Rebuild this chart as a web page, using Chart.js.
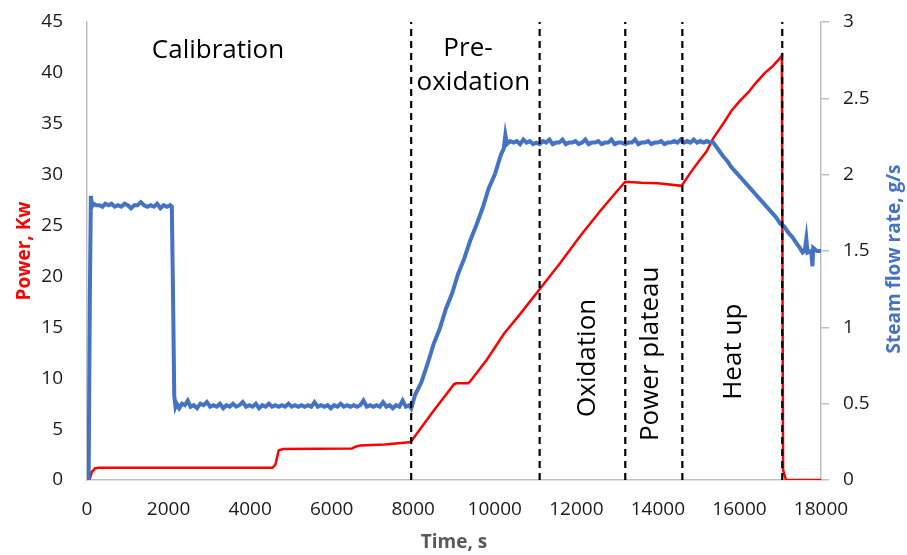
<!DOCTYPE html>
<html>
<head>
  <title>Power and steam flow</title>
  <script src="https://cdn.jsdelivr.net/npm/chart.js"></script>
  <style>
    body { margin: 0; background: #fff; }
  </style>
</head>
<body>
  <canvas id="runChart" width="907" height="555"></canvas>
  <script>
    // power, kW (left axis)
    const powerTime = [0, 60, 120, 200, 300, 4550, 4620, 4700, 4800, 6500, 6600, 6700, 7300, 7900,
      7950, 8500, 9000, 9050, 9350, 9400, 9800, 10230, 10600, 11090, 11600, 12100, 12600, 13000, 13200,
      13600, 14000, 14580, 14800, 15000, 15195, 15360, 15600, 15810, 16000, 16220, 16400, 16625, 16800,
      16960, 17040, 17070, 17140, 18000];
    const powerKw = [0, 0, 0.8, 1.15, 1.2, 1.2, 1.5, 2.9, 3.05, 3.1, 3.3, 3.4, 3.5, 3.7,
      3.8, 6.8, 9.4, 9.5, 9.5, 9.7, 11.8, 14.4, 16.2, 18.7, 21.3, 24.0, 26.5, 28.4, 29.3,
      29.2, 29.15, 28.9, 30.2, 31.3, 32.3, 33.6, 35.0, 36.3, 37.2, 38.1, 39.0, 40.0, 40.6,
      41.3, 41.7, 1.0, 0, 0];

    // steam flow rate, g/s (right axis)
    const steamTime = [0, 40, 70, 95, 120, 160, 220, 300, 380, 450, 530, 600, 680, 760, 840, 920, 1000,
      1080, 1160, 1240, 1320, 1400, 1480, 1560, 1640, 1720, 1800, 1880, 1960, 2040, 2080, 2110, 2140, 2170,
      2200, 2260, 2330, 2400, 2470, 2540, 2620, 2700, 2780, 2860, 2940, 3020, 3100, 3180, 3260, 3340, 3420,
      3500, 3580, 3660, 3740, 3820, 3900, 3980, 4060, 4140, 4220, 4300, 4380, 4460, 4540, 4620, 4700, 4780,
      4860, 4940, 5020, 5100, 5180, 5260, 5340, 5420, 5500, 5580, 5660, 5740, 5820, 5900, 5980, 6060, 6140,
      6220, 6300, 6380, 6460, 6540, 6620, 6700, 6780, 6860, 6940, 7020, 7100, 7180, 7260, 7340, 7420, 7500,
      7580, 7660, 7740, 7820, 7900,
      7950, 8050, 8200, 8350, 8500, 8650, 8800, 8950, 9100, 9250, 9400, 9550, 9700, 9850, 10000, 10150,
      10220, 10260, 10300, 10380, 10460, 10540, 10620, 10700, 10780, 10860, 10940, 11020, 11100, 11180,
      11260, 11340, 11420, 11500, 11580, 11660, 11740, 11820, 11900, 11980, 12060, 12140, 12220, 12300,
      12380, 12460, 12540, 12620, 12700, 12780, 12860, 12940, 13020, 13100, 13200, 13280, 13360, 13440,
      13520, 13600, 13680, 13760, 13840, 13920, 14000, 14080, 14160, 14240, 14320, 14400, 14480, 14560,
      14640, 14720, 14800, 14880, 14960, 15040, 15120, 15200, 15280, 15360,
      15440, 15520, 15600, 15700, 15800, 15900, 16000, 16100, 16200, 16300, 16400, 16500, 16600, 16700,
      16800, 16900, 17000, 17100, 17200, 17300, 17400, 17480, 17550, 17600, 17640, 17670, 17760, 17790,
      17810, 17900, 18000];
    const steamFlow = [0, 0, 1.2, 1.86, 1.79, 1.81, 1.80, 1.80, 1.79, 1.81, 1.80, 1.81, 1.79, 1.80, 1.79, 1.81, 1.80,
      1.78, 1.80, 1.80, 1.82, 1.80, 1.79, 1.80, 1.79, 1.81, 1.78, 1.80, 1.79, 1.80, 1.79, 1.2, 0.55, 0.48,
      0.50, 0.47, 0.50, 0.49, 0.52, 0.48, 0.49, 0.47, 0.50, 0.49, 0.51, 0.48, 0.49, 0.48, 0.50, 0.47, 0.49,
      0.48, 0.50, 0.48, 0.49, 0.51, 0.48, 0.49, 0.48, 0.50, 0.47, 0.49, 0.48, 0.50, 0.48, 0.49, 0.48, 0.49,
      0.48, 0.50, 0.48, 0.49, 0.48, 0.49, 0.48, 0.49, 0.48, 0.51, 0.48, 0.49, 0.48, 0.49, 0.47, 0.49, 0.48,
      0.50, 0.48, 0.49, 0.48, 0.49, 0.48, 0.49, 0.52, 0.48, 0.49, 0.48, 0.49, 0.48, 0.51, 0.48, 0.49, 0.47,
      0.49, 0.48, 0.52, 0.48, 0.49,
      0.47, 0.56, 0.64, 0.76, 0.89, 0.99, 1.12, 1.22, 1.35, 1.45, 1.57, 1.67, 1.78, 1.91, 2.00, 2.13,
      2.17, 2.26, 2.20, 2.22, 2.21, 2.22, 2.20, 2.23, 2.21, 2.22, 2.20, 2.21, 2.20, 2.22,
      2.21, 2.23, 2.20, 2.21, 2.21, 2.23, 2.20, 2.21, 2.21, 2.22, 2.20, 2.21, 2.23, 2.20,
      2.21, 2.21, 2.22, 2.20, 2.21, 2.21, 2.23, 2.20, 2.21, 2.21, 2.20, 2.21, 2.21, 2.23,
      2.20, 2.21, 2.21, 2.22, 2.20, 2.21, 2.21, 2.22, 2.20, 2.21, 2.21, 2.22, 2.21, 2.23,
      2.21, 2.22, 2.21, 2.23, 2.21, 2.22, 2.21, 2.22, 2.21, 2.21,
      2.18, 2.15, 2.12, 2.09, 2.05, 2.02, 1.99, 1.96, 1.93, 1.90, 1.87, 1.84, 1.81, 1.78,
      1.75, 1.72, 1.68, 1.66, 1.62, 1.59, 1.55, 1.52, 1.49, 1.50, 1.58, 1.49, 1.50, 1.40,
      1.52, 1.50, 1.50];

    // phase boundaries (s) and phase names
    const phaseBounds = [7950, 11100, 13200, 14600, 17050];
    const phaseLabels = [
      { text: 'Calibration', t: 3212, p: 42.2, rotate: false },
      { text: 'Pre-', t: 9343, p: 42.4, rotate: false },
      { text: 'oxidation', t: 9475, p: 39.0, rotate: false },
      { text: 'Oxidation', t: 12286, p: 12.0, rotate: true },
      { text: 'Power plateau', t: 13830, p: 12.4, rotate: true },
      { text: 'Heat up', t: 15865, p: 12.6, rotate: true }
    ];

    const tickFont = { family: 'Open Sans', size: 19 };
    const axisGray = '#BFBFBF';
    const plain = v => String(v);

    const boundSets = phaseBounds.map(t => ({
      data: [{ x: t, y: 0 }, { x: t, y: 45 }],
      yAxisID: 'y',
      borderColor: '#000',
      borderWidth: 2.2,
      borderDash: [7, 5],
      pointRadius: 0,
      order: 0
    }));

    const labelPlugin = {
      id: 'phaseText',
      afterDraw(chart) {
        const { ctx, scales, chartArea } = chart;
        ctx.save();
        ctx.fillStyle = '#000';
        ctx.font = '26px "Open Sans"';
        ctx.textAlign = 'center';
        ctx.textBaseline = 'middle';
        phaseLabels.forEach(l => {
          const x = scales.x.getPixelForValue(l.t);
          const y = scales.y.getPixelForValue(l.p);
          ctx.save();
          ctx.translate(x, y);
          if (l.rotate) ctx.rotate(-Math.PI / 2);
          ctx.fillText(l.text, 0, 0);
          ctx.restore();
        });
        // right axis title reads bottom-to-top
        ctx.font = 'bold 19px "Open Sans"';
        ctx.fillStyle = '#4472C4';
        ctx.translate(chart.width - 12, (chartArea.top + chartArea.bottom) / 2 + 8);
        ctx.rotate(-Math.PI / 2);
        ctx.fillText('Steam flow rate, g/s', 0, 0);
        ctx.restore();
      }
    };

    // fixed axis boxes so the plot area sits where the original one does
    const fixY = w => s => { s.width = w; s.paddingTop = 0; s.paddingBottom = 0; };

    new Chart(document.getElementById('runChart'), {
      type: 'line',
      data: {
        datasets: [
          ...boundSets,
          {
            label: 'Steam flow rate',
            data: steamTime.map((t, i) => ({ x: t, y: steamFlow[i] })),
            yAxisID: 'y2',
            borderColor: '#4472C4',
            borderWidth: 4,
            pointRadius: 0,
            order: 1
          },
          {
            label: 'Power',
            data: powerTime.map((t, i) => ({ x: t, y: powerKw[i] })),
            yAxisID: 'y',
            borderColor: '#FF0000',
            borderWidth: 2.5,
            pointRadius: 0,
            order: 2
          }
        ]
      },
      options: {
        responsive: false,
        animation: false,
        layout: { padding: { top: 22, left: 0, right: 0, bottom: 0 } },
        plugins: { legend: { display: false }, tooltip: { enabled: false } },
        scales: {
          x: {
            type: 'linear',
            min: 0, max: 18000,
            grid: { display: false, drawTicks: false },
            border: { display: true, color: axisGray, width: 1.5 },
            ticks: { stepSize: 2000, font: tickFont, color: '#1a1a1a', padding: 18, maxRotation: 0, callback: plain },
            title: { display: true, text: 'Time, s', color: '#595959',
              font: { family: 'Open Sans', size: 19, weight: 'bold' }, padding: { top: 0, bottom: 1 } },
            afterFit: s => { s.height = 75; }
          },
          y: {
            position: 'left',
            min: 0, max: 45,
            grid: { display: false, drawTicks: false },
            border: { display: true, color: axisGray, width: 1.5 },
            ticks: { stepSize: 5, font: tickFont, color: '#1a1a1a', padding: 24, callback: plain },
            title: { display: true, text: 'Power, Kw', color: '#FF0000',
              font: { family: 'Open Sans', size: 19, weight: 'bold' }, padding: { top: 13, bottom: 0 } },
            afterFit: fixY(87)
          },
          y2: {
            position: 'right',
            min: 0, max: 3,
            grid: { drawOnChartArea: false, drawTicks: true, tickLength: 8, color: axisGray, lineWidth: 1.5 },
            border: { display: true, color: axisGray, width: 1.5 },
            ticks: { stepSize: 0.5, font: tickFont, color: '#1a1a1a', padding: 14, callback: plain },
            afterFit: fixY(86)
          }
        }
      },
      plugins: [labelPlugin]
    });
  </script>
</body>
</html>
